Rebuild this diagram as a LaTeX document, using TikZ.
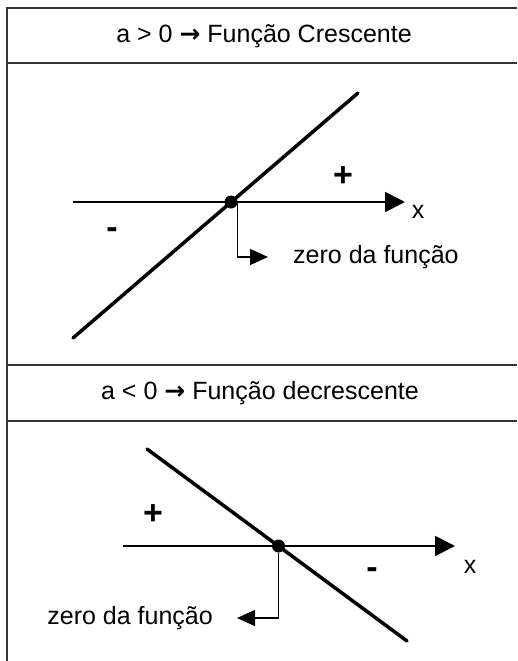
\documentclass[tikz,border=0pt]{standalone}
\usepackage{fontspec}
\setmainfont{Liberation Sans}
\newfontfamily\arrowfont{DejaVu Sans}
\usetikzlibrary{
  arrows.meta,
  positioning
}

\begin{document}
\begin{tikzpicture}[x=1pt, y=-1pt,
  frameline/.style={line width=2.5pt, draw=black!80},
  axisline/.style={line width=1.8pt, -{Triangle[length=20pt, width=20pt]}},
  fnline/.style={line width=3.5pt, line cap=round},
  zeroarr/.style={line width=1.4pt, -{Triangle[length=18pt, width=16pt]}},
  zerodot/.style={circle, fill=black, inner sep=0pt, minimum size=13pt},
  titletext/.style={font=\fontsize{25}{30}\selectfont, inner sep=0pt},
  lbl/.style={font=\fontsize{25}{30}\selectfont, inner sep=0pt},
  sign/.style={font=\fontsize{34}{38}\selectfont\bfseries, inner sep=0pt}
]
\useasboundingbox (0,0) rectangle (517,661);
% frame
\draw[frameline] (517,8) -- (7,8) -- (7,661);
\draw[frameline] (7,63) -- (517,63);
\draw[frameline] (7,365) -- (517,365);
\draw[frameline] (7,421) -- (517,421);
\node[titletext] (t1) at (264,36) {a > 0 {\arrowfont\bfseries →} Função Crescente};
\node[titletext] (t2) at (260,393) {a < 0 {\arrowfont\bfseries →} Função decrescente};

% increasing function
\coordinate (ax1s) at (73,202);
\coordinate (ax1e) at (405,202);
\coordinate (f1s) at (73,338);
\coordinate (f1e) at (358,93);
\draw[axisline] (ax1s) -- (ax1e);
\draw[fnline] (f1s) -- (f1e);
\node[zerodot] (d1) at (231,202) {};
\coordinate (z1tip) at (268,257);
\draw[zeroarr] (d1.east) |- (z1tip);
\node[lbl, right=25pt of z1tip] (z1) {zero da função};
\node[lbl] (x1) at (418,212) {x};
\node[sign] (p1) at (343,177) {+};
\node[sign] (m1) at (112,233) {-};

% decreasing function
\coordinate (ax2s) at (123,546);
\coordinate (ax2e) at (455,546);
\coordinate (f2s) at (147,449);
\coordinate (f2e) at (407,641);
\draw[axisline] (ax2s) -- (ax2e);
\draw[fnline] (f2s) -- (f2e);
\node[zerodot] (d2) at (278.5,546) {};
\coordinate (z2tip) at (237,618);
\draw[zeroarr] (d2.south) |- (z2tip);
\node[lbl, left=24pt of z2tip] (z2) {zero da função};
\node[lbl] (x2) at (470,567) {x};
\node[sign] (p2) at (153,515) {+};
\node[sign] (m2) at (372,573) {-};
\end{tikzpicture}
\end{document}
